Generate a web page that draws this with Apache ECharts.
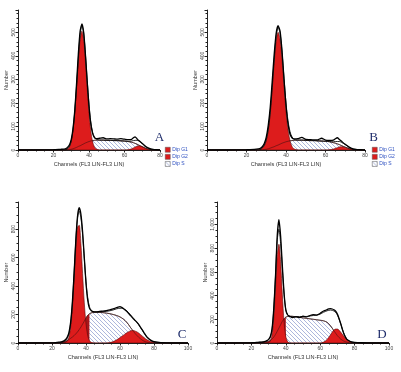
<!DOCTYPE html>
<html><head><meta charset="utf-8">
<script src="https://cdn.jsdelivr.net/npm/echarts@6/dist/echarts.min.js"></script>
<style>html,body{margin:0;padding:0;background:#fff}#c{width:401px;height:372px}</style>
</head><body><div id="c"></div>
<script>
// channel grids
const chAB = [0,10,20,24,26,27,28,29,30,31,32,33,34,35,36,37,38,39,40,41,42,43,44,46,48,50,52,54,56,58,60,62,64,65,66,67,68,70,72,74,76,78,80];
const chCD = [0,10,20,22,24,26,28,29,30,31,32,33,34,35,36,37,38,39,40,41,42,43,44,46,48,50,52,54,56,58,60,61,62,63,64,65,66,67,68,69,70,71,72,73,74,75,76,78,80,84,90,100];

// Panel A
const A_data = [0,0,1,3,4, 6,12,22,45,92,170,285,410,505,536,500,405,290,185,112,72,54,48, 50,52,47,48,47,46,48,46,44,45, 52,56,48,40, 28,15,7,3,1,0];
const A_fit  = [0,0,0,0,0, 1,6,16,39,87,167,273,390,488,527,496,405,295,195,120,76,55,47, 42,42,41,41,40,40,39,38,37,38, 40,41,41,39, 28,13,5,0,0,0];
const A_g1   = [0,0,0,0,0, 1,5,14,36,82,159,262,375,470,505,470,375,262,159,82,36,14,5, 0,0,0,0,0,0,0,0,0,0, 0,0,0,0, 0,0,0,0,0,0];
const A_s    = [0,0,0,0,0, 0,1,2,3,5,8,11,15,18,22,26,30,33,36,38,40,41,42, 42,42,41,41,40,40,39,38,36,33, 31,28,25,21, 14,7,3,0,0,0];
const A_g2   = [0,0,0,0,0, 0,0,0,0,0,0,0,0,0,0,0,0,0,0,0,0,0,0, 0,0,0,0,0,0,0,0,1,5, 9,13,16,18, 14,6,2,0,0,0];

// Panel B
const B_data = [0,0,1,3,5, 7,14,28,55,105,180,290,405,495,528,505,420,300,190,112,68,52,47, 48,54,45,44,43,43,50,42,41,42, 48,52,45,38, 24,12,5,2,1,0];
const B_fit  = [0,0,0,0,0, 2,9,20,43,87,160,266,384,480,521,495,414,304,200,125,79,56,46, 42,42,41,40,40,39,38,37,36,35, 36,36,36,33, 23,11,3,0,0,0];
const B_g1   = [0,0,0,0,0, 2,8,18,40,82,152,255,370,462,500,470,385,272,165,88,40,16,5, 0,0,0,0,0,0,0,0,0,0, 0,0,0,0, 0,0,0,0,0,0];
const B_s    = [0,0,0,0,0, 0,1,2,3,5,8,11,14,18,21,25,29,32,35,37,39,40,41, 42,42,41,40,40,39,38,37,35,31, 29,26,23,19, 12,6,2,0,0,0];
const B_g2   = [0,0,0,0,0, 0,0,0,0,0,0,0,0,0,0,0,0,0,0,0,0,0,0, 0,0,0,0,0,0,0,0,1,4, 7,10,13,14, 11,5,1,0,0,0];

// Panel C
const C_data = [0,0,1,3,6,10, 25,42,75,150,290,490,720,890,950,905,780,600,420,300,245,228,220, 218,222,224,228,233,240,248, 255,250,242,232,222,208,195,182,168,157,145,130,112,94,75,57,40, 20,9,3,0,0];
const C_fit  = [0,0,0,1,3,6, 18,34,66,140,280,490,715,870,925,880,760,590,430,320,255,230,222, 218,218,220,222,226,232,240, 244,244,240,234,226,214,200,186,172,158,144,128,110,92,72,54,38, 18,8,3,0,0];
const C_g1   = [0,0,0,0,0,0, 4,14,43,114,247,443,659,812,827,698,487,282,135,53,17,5,1, 0,0,0,0,0,0,0, 0,0,0,0,0,0,0,0,0,0,0,0,0,0,0,0,0, 0,0,0,0,0];
const C_s    = [0,0,0,0,0,3, 12,18,25,33,42,52,64,78,94,112,132,154,176,194,205,211,214, 216,215,213,210,206,200,193, 183,176,168,158,145,130,112,96,80,65,52,40,30,21,14,9,5, 1,0,0,0,0];
const C_g2   = [0,0,0,0,0,0, 0,0,0,0,0,0,0,0,0,0,0,0,0,0,0,0,0, 0,0,0,0,3,10,22, 38,47,55,64,72,79,85,87,87,83,78,70,60,50,40,30,22, 10,4,0,0,0];

// Panel D
const D_data = [0,0,2,4,6,8, 14,20,30,55,120,290,560,900,1040,900,650,420,280,238,226,220,215, 222,215,226,220,232,240,236, 250,262,270,275,282,287,290,287,280,268,245,205,160,110,70,42,25, 10,5,2,0,0];
const D_fit  = [0,0,1,3,5,7, 12,18,27,48,110,280,560,860,960,840,620,410,280,240,228,222,220, 222,222,224,224,228,232,236, 244,252,260,266,272,276,278,276,270,258,236,200,158,112,72,44,26, 10,4,1,0,0];
const D_g1   = [0,0,0,0,0,0, 0,0,3,17,70,211,463,732,833,685,406,174,54,12,2,0,0, 0,0,0,0,0,0,0, 0,0,0,0,0,0,0,0,0,0,0,0,0,0,0,0,0, 0,0,0,0,0];
const D_s    = [0,0,0,0,0,2, 6,9,14,22,34,50,72,98,126,155,183,205,218,224,226,226,225, 221,216,212,208,204,200,196, 192,190,187,182,175,162,145,125,102,82,62,46,32,22,14,9,5, 1,0,0,0,0];
const D_g2   = [0,0,0,0,0,0, 0,0,0,0,0,0,0,0,0,0,0,0,0,0,0,0,0, 0,0,0,0,0,0,0, 0,3,8,17,30,48,70,92,110,118,118,108,90,72,52,35,22, 7,2,0,0,0];

const letters = ['A','B','C','D'];
const xTickMax = [80,80,100,100];
const legendNames = ['Dip G1','Dip G2','Dip S'];

const panels = [
  {ch: chAB, data: A_data, fit: A_fit, g1: A_g1, s: A_s, g2: A_g2, cut: 42},
  {ch: chAB, data: B_data, fit: B_fit, g1: B_g1, s: B_s, g2: B_g2, cut: 42},
  {ch: chCD, data: C_data, fit: C_fit, g1: C_g1, s: C_s, g2: C_g2, cut: 42},
  {ch: chCD, data: D_data, fit: D_fit, g1: D_g1, s: D_s, g2: D_g2, cut: 40}
];
// layout (styles)
const grids = [
  {left:18, top:10, width:142, height:140},
  {left:207, top:10, width:158, height:140},
  {left:18, top:202, width:170, height:141},
  {left:217, top:202, width:172, height:141}
];
const yMaxes = [595, 595, 990, 1190];
const yInts = [100, 100, 200, 200];
const letterPos = [[159.5,137.5],[373.5,137.5],[182,334.5],[382,334.5]];

function hatch(){
  const c = document.createElement('canvas'); c.width = 4; c.height = 4;
  const g = c.getContext('2d');
  g.fillStyle = '#ffffff'; g.fillRect(0,0,4,4);
  g.strokeStyle = '#7587c4'; g.lineWidth = 0.6;
  g.beginPath();
  g.moveTo(-1,-1); g.lineTo(5,5);
  g.moveTo(-1,3); g.lineTo(1,5);
  g.moveTo(3,-1); g.lineTo(5,1);
  g.stroke();
  return c;
}
const hatchPattern = {image: hatch(), repeat: 'repeat'};
const RED = '#dd1c1c';
const DARKRED = '#a8161a';
const FONT = 'Liberation Sans';

const pairs = (ch, v) => ch.map((c,i)=>[c, v[i]]);

const xAxes = [], yAxes = [], series = [], graphics = [];
panels.forEach((p, i) => {
  xAxes.push({
    gridIndex: i, type: 'value', min: 0, max: xTickMax[i], interval: 20,
    axisLine: {lineStyle: {color: '#222', width: 1}},
    axisTick: {length: 2.5, lineStyle: {color: '#222'}},
    minorTick: {show: true, splitNumber: 4, length: 1.5, lineStyle: {color: '#222'}},
    splitLine: {show: false},
    axisLabel: {fontSize: 5, margin: 3, color: '#444', fontFamily: FONT},
    name: 'Channels (FL3 LIN-FL3 LIN)', nameLocation: 'middle', nameGap: 11,
    nameTextStyle: {fontSize: 5.6, color: '#333', fontFamily: FONT}
  });
  yAxes.push({
    gridIndex: i, type: 'value', min: 0, max: yMaxes[i], interval: yInts[i],
    axisLine: {show: true, lineStyle: {color: '#222', width: 1}},
    axisTick: {show: true, length: 2.5, lineStyle: {color: '#222'}},
    minorTick: {show: true, splitNumber: i < 2 ? 5 : 4, length: 1.5, lineStyle: {color: '#222'}},
    splitLine: {show: false},
    axisLabel: {fontSize: 5, margin: 2, rotate: 90, color: '#444', showMaxLabel: false, fontFamily: FONT},
    name: 'Number', nameLocation: 'middle', nameRotate: 90, nameGap: 9,
    nameTextStyle: {fontSize: 5.6, color: '#333', fontFamily: FONT}
  });
  const base = {type: 'line', xAxisIndex: i, yAxisIndex: i, showSymbol: false, symbol: 'none', silent: true, animation: false};
  series.push(Object.assign({}, base, {
    name: 'Dip S', data: pairs(p.ch, p.s), smooth: 0.3, z: 1,
    itemStyle: {color: hatchPattern},
    lineStyle: {color: '#333', width: 0.7},
    areaStyle: {color: hatchPattern, opacity: 1}
  }));
  const left = p.ch.map((c,k)=>[c, p.s[k]]).filter(d => d[0] <= p.cut);
  series.push(Object.assign({}, base, {
    name: 'S overlap', data: left, smooth: 0.3, z: 2,
    lineStyle: {width: 0}, areaStyle: {color: DARKRED, opacity: 1}
  }));
  series.push(Object.assign({}, base, {
    name: 'Dip G2', data: pairs(p.ch, p.g2), smooth: 0.3, z: 3,
    itemStyle: {color: RED},
    lineStyle: {color: '#5a0c0c', width: 0.6}, areaStyle: {color: RED, opacity: 1}
  }));
  series.push(Object.assign({}, base, {
    name: 'Dip G1', data: pairs(p.ch, p.g1), smooth: 0.3, z: 3,
    itemStyle: {color: RED},
    lineStyle: {color: '#5a0c0c', width: 0.6}, areaStyle: {color: RED, opacity: 1}
  }));
  series.push(Object.assign({}, base, {
    name: 'S line', data: pairs(p.ch, p.s), smooth: 0.3, z: 4,
    lineStyle: {color: '#4a1212', width: 0.6}
  }));
  series.push(Object.assign({}, base, {
    name: 'Fit', data: pairs(p.ch, p.fit), smooth: 0.3, z: 5,
    lineStyle: {color: '#111', width: 0.9}
  }));
  series.push(Object.assign({}, base, {
    name: 'Data', data: pairs(p.ch, p.data), smooth: 0.2, z: 6,
    lineStyle: {color: '#000', width: 1.3}
  }));
  graphics.push({
    type: 'text', x: letterPos[i][0], y: letterPos[i][1], silent: true,
    style: {text: letters[i], fontSize: 13, fontFamily: 'Liberation Serif', fill: '#1f2d6b',
      textAlign: 'center', textVerticalAlign: 'middle'}
  });
});

const legendBase = {
  orient: 'vertical', itemWidth: 5, itemHeight: 5, itemGap: 1.6, padding: 0,
  selectedMode: false,
  textStyle: {fontSize: 5, color: '#2c4fc0', fontFamily: FONT, padding: [0,0,0,-3]},
  data: [
    {name: legendNames[0], icon: 'rect', itemStyle: {color: RED, borderColor: '#555', borderWidth: 0.5}},
    {name: legendNames[1], icon: 'rect', itemStyle: {color: RED, borderColor: '#555', borderWidth: 0.5}},
    {name: legendNames[2], icon: 'rect', itemStyle: {color: hatchPattern, borderColor: '#555', borderWidth: 0.5}}
  ]
};

const chart = echarts.init(document.getElementById('c'), null, {renderer: 'canvas'});
chart.setOption({
  animation: false,
  backgroundColor: '#fff',
  grid: grids.map(g => Object.assign({containLabel: false}, g)),
  xAxis: xAxes,
  yAxis: yAxes,
  legend: [
    Object.assign({}, legendBase, {left: 165, top: 147}),
    Object.assign({}, legendBase, {left: 372, top: 147})
  ],
  graphic: graphics,
  series: series
});
</script></body></html>
